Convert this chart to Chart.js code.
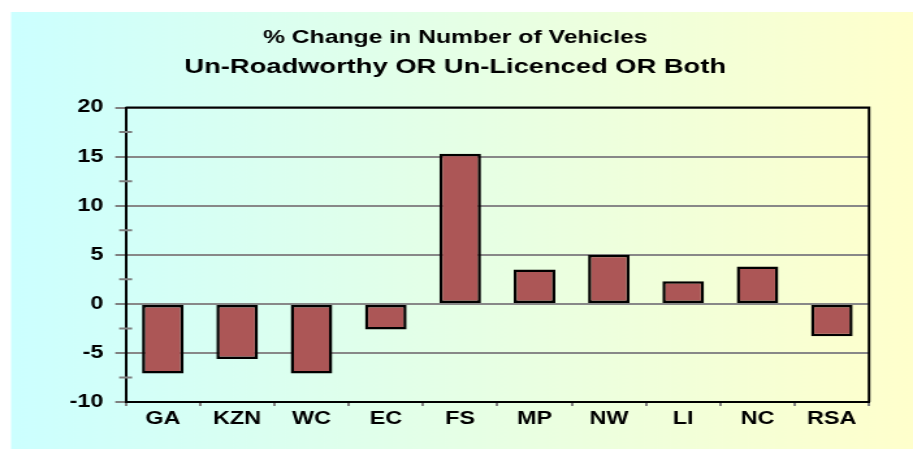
<!DOCTYPE html>
<html>
<head>
<meta charset="utf-8">
<script src="https://cdn.jsdelivr.net/npm/chart.js@4/dist/chart.umd.min.js"></script>
<style>
  body { margin: 0; background: #fff; }
  #chart { display: block; }
</style>
</head>
<body>
<canvas id="chart" width="702" height="450" style="width:913px;height:450px"></canvas>
<script>
  // Data
  var regions = ['GA', 'KZN', 'WC', 'EC', 'FS', 'MP', 'NW', 'LI', 'NC', 'RSA'];
  var pctChange = [-7.1, -5.6, -7.1, -2.6, 15.3, 3.5, 5.0, 2.3, 3.8, -3.3];
  var yTicks = [-10, -5, 0, 5, 10, 15, 20];
  var yMinorTicks = [-7.5, -2.5, 2.5, 7.5, 12.5, 17.5];

  var fontFamily = '"Liberation Sans", Arial, sans-serif';

  // background gradient + frame + minor ticks
  var decor = {
    id: 'decor',
    beforeDraw: function (chart) {
      var ctx = chart.ctx;
      ctx.save();
      ctx.fillStyle = '#ffffff';
      ctx.fillRect(0, 0, chart.width, chart.height);
      var g = ctx.createLinearGradient(8.5, 0, chart.width, 0);
      g.addColorStop(0, '#ccffff');
      g.addColorStop(1, '#ffffcc');
      ctx.fillStyle = g;
      ctx.fillRect(8.5, 12, chart.width - 8.5, 437);
      ctx.restore();
    },
    afterDraw: function (chart) {
      var ctx = chart.ctx;
      var a = chart.chartArea;
      var y = chart.scales.y;
      ctx.save();
      ctx.strokeStyle = '#000';
      ctx.lineWidth = 2;
      ctx.beginPath();
      ctx.moveTo(a.left, a.top);
      ctx.lineTo(a.right, a.top);
      ctx.lineTo(a.right, a.bottom);
      ctx.stroke();
      ctx.strokeStyle = '#808080';
      ctx.beginPath();
      yMinorTicks.forEach(function (v) {
        var py = y.getPixelForValue(v);
        ctx.moveTo(a.left - 5, py);
        ctx.lineTo(a.left + 5, py);
      });
      ctx.stroke();
      ctx.restore();
    }
  };

  new Chart(document.getElementById('chart'), {
    type: 'bar',
    data: {
      labels: regions,
      datasets: [{
        data: pctChange,
        backgroundColor: '#ac5656',
        borderColor: '#000000',
        borderWidth: 2.5,
        borderSkipped: false,
        barPercentage: 0.56,
        categoryPercentage: 1
      }]
    },
    options: {
      responsive: false,
      animation: false,
      devicePixelRatio: 1,
      layout: { padding: { left: 31.8, right: 33.8, top: 0, bottom: 18.3 } },
      plugins: {
        legend: { display: false },
        tooltip: { enabled: false },
        title: {
          display: true,
          text: '% Change in Number of Vehicles',
          color: '#000',
          font: { family: fontFamily, size: 19, weight: 'bold', lineHeight: 1.2 },
          padding: { top: 26.5, bottom: 0 }
        },
        subtitle: {
          display: true,
          text: 'Un-Roadworthy OR Un-Licenced OR Both',
          color: '#000',
          font: { family: fontFamily, size: 21, weight: 'bold', lineHeight: 1.2 },
          padding: { top: 5.5, bottom: 27.5 }
        }
      },
      scales: {
        x: {
          grid: {
            drawOnChartArea: false,
            tickLength: 4,
            tickColor: '#808080',
            lineWidth: 2
          },
          border: { color: '#000', width: 2 },
          ticks: {
            color: '#000',
            padding: 2,
            font: { family: fontFamily, size: 18, weight: 'bold' }
          }
        },
        y: {
          min: -10,
          max: 20,
          afterFit: function (scale) { scale.width = 64.8; },
          afterBuildTicks: function (scale) {
            scale.ticks = yTicks.map(function (v) { return { value: v }; });
          },
          grid: {
            color: '#888888',
            lineWidth: 2,
            tickLength: 8,
            tickColor: '#808080'
          },
          border: { color: '#000', width: 2 },
          ticks: {
            color: '#000',
            padding: 9,
            font: { family: fontFamily, size: 18, weight: 'bold' }
          }
        }
      }
    },
    plugins: [decor]
  });
</script>
</body>
</html>
